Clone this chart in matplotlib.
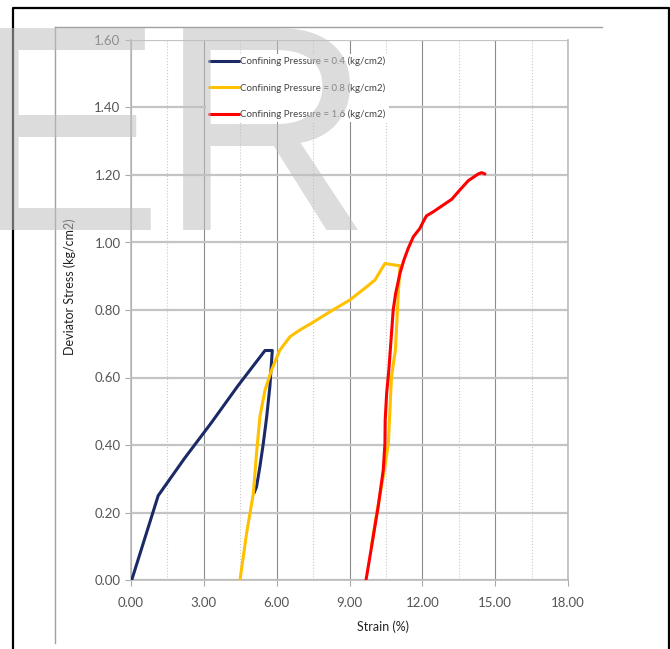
import matplotlib
matplotlib.use('Agg')
import matplotlib.pyplot as plt
from matplotlib.lines import Line2D
from matplotlib.ticker import MultipleLocator, FormatStrFormatter

plt.rcParams['font.family'] = ['Lato', 'DejaVu Sans']

# strain (%) / deviator stress (kg/cm2) for each confining pressure
strain_04 = [0.03, 1.12, 2.2, 3.3, 4.4, 5.52, 5.82, 5.72, 5.59, 5.45, 5.31, 5.17, 5.07]
stress_04 = [0.0, 0.25, 0.36, 0.465, 0.575, 0.68, 0.68, 0.573, 0.484, 0.405, 0.336, 0.276, 0.258]

strain_08 = [4.49, 4.76, 5.04, 5.17, 5.31, 5.52, 5.79, 6.13, 6.55, 6.96, 7.37, 8.2, 9.02, 9.71,
             10.05, 10.46, 10.6, 11.08, 11.01, 10.94, 10.89, 10.73, 10.6, 10.46, 10.12, 9.9]
stress_08 = [0.0, 0.138, 0.257, 0.375, 0.484, 0.563, 0.622, 0.681, 0.721, 0.741, 0.758, 0.795,
             0.83, 0.869, 0.889, 0.938, 0.936, 0.931, 0.849, 0.751, 0.681, 0.602, 0.405, 0.336,
             0.198, 0.1]

strain_16 = [9.68, 9.91, 10.18, 10.39, 10.46, 10.47, 10.53, 10.62, 10.71, 10.8, 10.9, 11.08,
             11.24, 11.42, 11.63, 11.9, 12.04, 12.17, 12.45, 12.86, 13.21, 13.55, 13.89, 14.3,
             14.44, 14.58]
stress_16 = [0.0, 0.099, 0.217, 0.326, 0.405, 0.474, 0.553, 0.622, 0.711, 0.8, 0.849, 0.909,
             0.948, 0.983, 1.017, 1.042, 1.062, 1.079, 1.091, 1.111, 1.128, 1.156, 1.183, 1.203,
             1.207, 1.203]

labels = ['Confining Pressure = 0.4 (kg/cm2)',
          'Confining Pressure = 0.8 (kg/cm2)',
          'Confining Pressure = 1.6 (kg/cm2)']
colors = ['#1b2a66', '#ffc000', '#ff0000']

W, H = 670, 649
fig = plt.figure(figsize=(W / 100, H / 100), dpi=100)
ax = fig.add_axes([131 / W, 1 - 580 / H, 437 / W, 540 / H])

for xs, ys, lab, c in zip([strain_04, strain_08, strain_16],
                          [stress_04, stress_08, stress_16], labels, colors):
    ax.plot(xs, ys, color=c, lw=2.2, label=lab, solid_capstyle='round', zorder=3)

ax.set_xlim(0, 18)
ax.set_ylim(0, 1.6)
ax.xaxis.set_major_locator(MultipleLocator(3))
ax.xaxis.set_minor_locator(MultipleLocator(1.5))
ax.yaxis.set_major_locator(MultipleLocator(0.2))
ax.xaxis.set_major_formatter(FormatStrFormatter('%.2f'))
ax.yaxis.set_major_formatter(FormatStrFormatter('%.2f'))
ax.grid(axis='y', which='major', color='#c4c4c4', lw=1.6)
ax.grid(axis='x', which='major', color='#8c8c8c', lw=0.8)
ax.grid(axis='x', which='minor', color='#c8c8c8', lw=0.8, ls=':')
ax.tick_params(axis='both', which='major', labelsize=9.5, labelcolor='#555555',
               color='#aaaaaa', length=4)
ax.tick_params(axis='x', which='minor', length=0)
ax.tick_params(axis='x', pad=8)
for side in ['left', 'bottom', 'right']:
    ax.spines[side].set_color('#bbbbbb')
    ax.spines[side].set_linewidth(1.2)
ax.spines['top'].set_visible(False)

leg = ax.legend(loc='upper left', bbox_to_anchor=(70 / 437, 1 - 9 / 540), fontsize=7,
                frameon=True, framealpha=1, edgecolor='none', fancybox=False,
                handlelength=3.1, handletextpad=0.15, labelspacing=1.75,
                borderpad=0.3)
for t in leg.get_texts():
    t.set_color('#444444')

fig.text(70 / W, 1 - 287 / H, 'Deviator Stress (kg/cm2)', rotation=90, ha='center',
         va='center', fontsize=9, color='#222222')
fig.text(383 / W, 1 - 627 / H, 'Strain (%)', ha='center', va='center', fontsize=9,
         color='#222222')

# outer frame (open at the bottom) and chart-area lines
fig.add_artist(Line2D([13 / W, 13 / W, 669 / W, 669 / W], [0, 1 - 8 / H, 1 - 8 / H, 0],
                      transform=fig.transFigure, color='black', lw=1.6))
fig.add_artist(Line2D([55 / W, 602 / W], [1 - 27 / H, 1 - 27 / H], transform=fig.transFigure,
                      color='#a0a0a0', lw=1.0))
fig.add_artist(Line2D([55 / W, 55 / W], [1 - 27 / H, 1 - 643 / H], transform=fig.transFigure,
                      color='#a0a0a0', lw=1.0))

# watermark letters
wm = dict(fontsize=212, family='Liberation Sans', color='#c0c0c0', alpha=0.55,
          va='baseline', ha='left', zorder=10)
fig.text(-33 / W, 1 - 230 / H, 'E', **wm)
fig.text(159 / W, 1 - 230 / H, 'R', **wm)

fig.savefig('out.png', dpi=100)
